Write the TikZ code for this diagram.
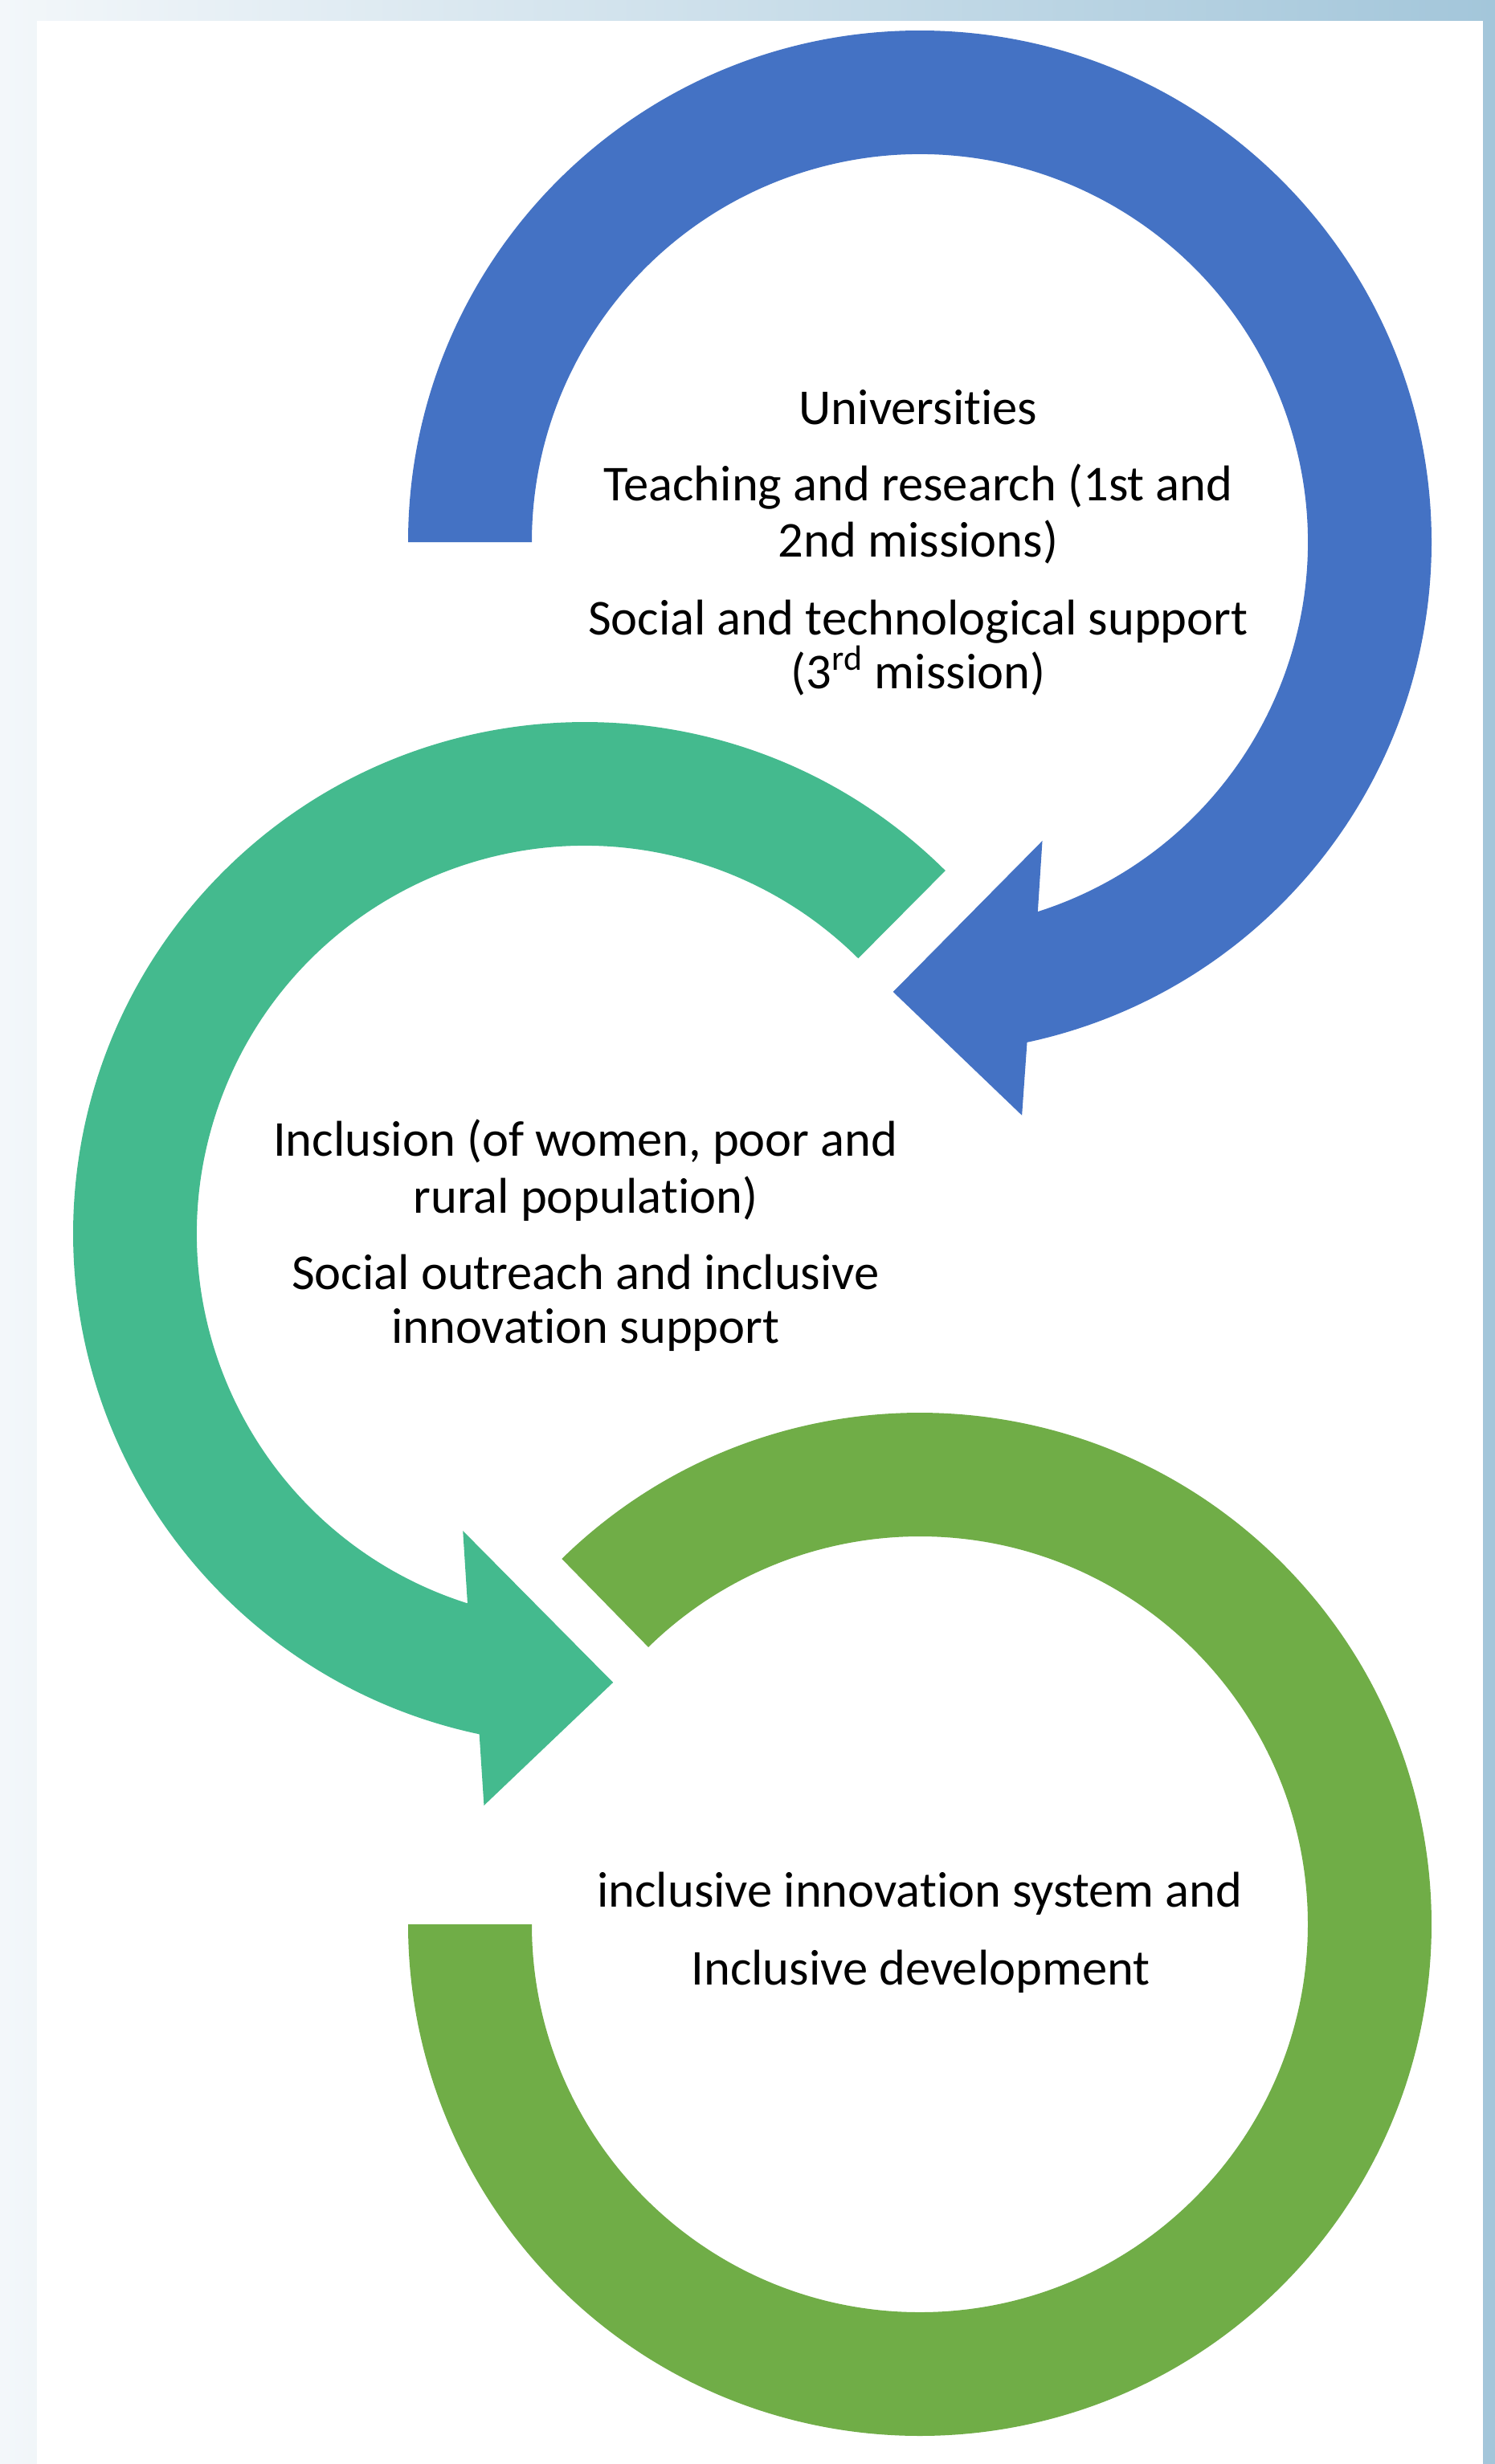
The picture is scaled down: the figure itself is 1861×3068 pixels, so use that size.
\documentclass[tikz,border=0pt]{standalone}
\usepackage{fontspec}
\setmainfont{Carlito}[Ligatures=NoCommon]
\definecolor{bgleft}{HTML}{F3F7FA}
\definecolor{bgright}{HTML}{A3C6DA}
\definecolor{ringblue}{HTML}{4472C4}
\definecolor{ringteal}{HTML}{44BA8E}
\definecolor{ringolive}{HTML}{70AD47}
\tikzset{
  lbl/.style={anchor=base, inner sep=0pt, font=\fontsize{17.8}{19.9}\selectfont}
}
\begin{document}
\begin{tikzpicture}[x=0.1mm, y=0.1mm]
          \useasboundingbox (0,0) rectangle (1861,-3068);
          \shade[left color=bgleft, right color=bgright] (0,0) rectangle (1861,-3068);
          \fill[white] (46,-26) rectangle (1846,-3068);
          \coordinate (cb) at (1145,-675);
          \coordinate (cg) at (728,-1536);
          \coordinate (co) at (1145,-2396);
          % top ring with its head at the lower left
          \fill[ringblue] ([shift={(180:637)}]cb) arc[start angle=180, end angle=-77.9, radius=637]
            -- ([shift={(-79.9:725)}]cb) -- ([shift={(-93.4:561)}]cb) -- ([shift={(-67.7:402)}]cb)
            -- ([shift={(-72.3:483)}]cb) arc[start angle=-72.3, end angle=180, radius=483] -- cycle;
          % middle ring
          \fill[ringteal] ([shift={(45.2:637)}]cg) arc[start angle=45.2, end angle=258.1, radius=637]
            -- ([shift={(260:723)}]cg) -- ([shift={(273.6:560)}]cg) -- ([shift={(247.7:400)}]cg)
            -- ([shift={(252.4:483)}]cg) arc[start angle=252.4, end angle=45.2, radius=483] -- cycle;
          % bottom ring
          \fill[ringolive] ([shift={(134.4:637)}]co) arc[start angle=134.4, end angle=-180, radius=637]
            -- ([shift={(180:483)}]co) arc[start angle=-180, end angle=134.4, radius=483] -- cycle;
          \node[lbl] (uni) at (1143,-528) {Universities};
          \node[lbl] (teachA) at (1143,-623) {Teaching and research (1st and};
          \node[lbl] (teachB) at (1143,-693) {2nd missions)};
          \node[lbl] (socA) at (1143,-790) {Social and technological support};
          \node[lbl] (socB) at (1143,-857) {(3\textsuperscript{rd} mission)};
          \node[lbl] (inclA) at (729,-1439) {Inclusion (of women, poor and};
          \node[lbl] (inclB) at (729,-1510) {rural population)};
          \node[lbl] (outA) at (729,-1605) {Social outreach and inclusive};
          \node[lbl] (outB) at (729,-1672) {innovation support};
          \node[lbl] (sysA) at (1145,-2374) {inclusive innovation system and};
          \node[lbl] (sysB) at (1146,-2471) {Inclusive development};
    \end{tikzpicture}
\end{document}
